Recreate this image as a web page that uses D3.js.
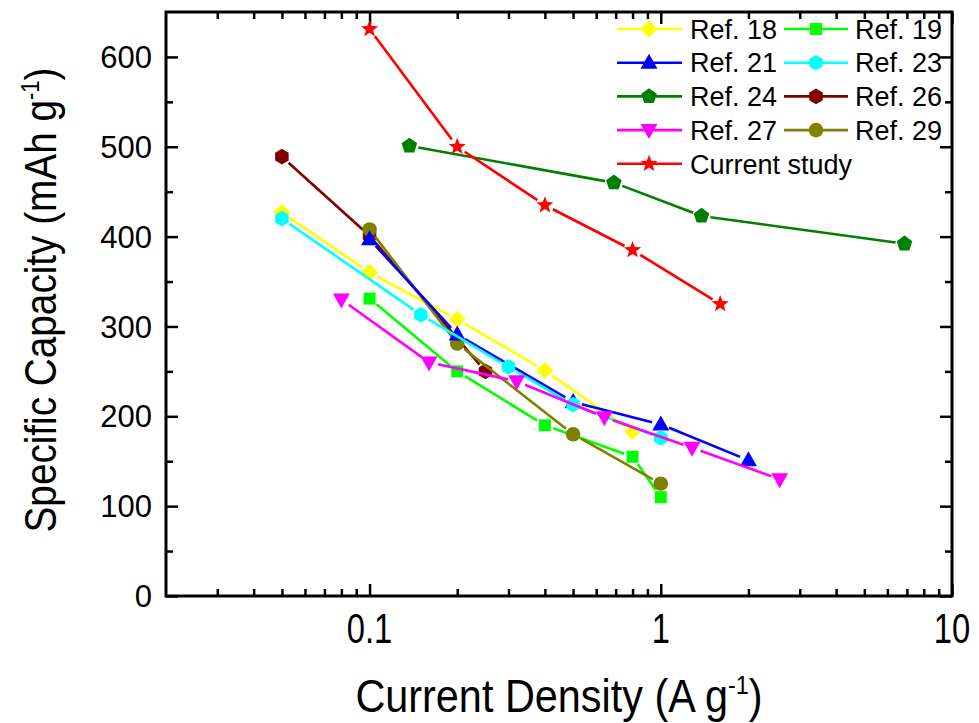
<!DOCTYPE html>
<html>
<head>
<meta charset="utf-8">
<script src="https://cdn.jsdelivr.net/npm/d3@7"></script>
<style>
  body { margin: 0; background: #fff; }
  svg { display: block; font-family: 'Liberation Sans', Arial, sans-serif; }
</style>
</head>
<body>
<div id="chart"></div>
<script>
// DATA (current density in A g-1, specific capacity in mAh g-1)
let seriesNames = ['Ref. 18', 'Ref. 19', 'Ref. 21', 'Ref. 23', 'Ref. 24', 'Ref. 26', 'Ref. 27', 'Ref. 29', 'Current study']

let ref18X = [0.05, 0.1, 0.2, 0.4, 0.8]
let ref18Y = [427, 360, 308, 251, 183]
let ref19X = [0.1, 0.2, 0.4, 0.8, 1.0]
let ref19Y = [331, 250, 190, 155, 110]
let ref21X = [0.1, 0.2, 0.5, 1.0, 2.0]
let ref21Y = [397, 291, 216, 191, 151]
let ref23X = [0.05, 0.15, 0.3, 0.5, 1.0]
let ref23Y = [420, 313, 255, 213, 176]
let ref24X = [0.137, 0.69, 1.38, 6.87]
let ref24Y = [501, 460, 423, 392]
let ref26X = [0.05, 0.1, 0.25]
let ref26Y = [489, 401, 250]
let ref27X = [0.08, 0.16, 0.32, 0.64, 1.28, 2.56]
let ref27Y = [330, 260, 239, 199, 165, 130]
let ref29X = [0.1, 0.2, 0.5, 1.0]
let ref29Y = [408, 281, 180, 125]
let currentX = [0.1, 0.2, 0.4, 0.8, 1.6]
let currentY = [631, 500, 435, 385, 325]

let xTicks = [0.1, 1, 10]
let yTicks = [0, 100, 200, 300, 400, 500, 600]

let width = 979
let height = 723
let plot = { left: 166, right: 952, top: 12, bottom: 596 }
let gap = 9

// custom marker shapes, size = half width in px
function polygon(n, r, rot) {
  return {
    draw(context) {
      for (let k = 0; k < n; k++) {
        let a = rot + k * 2 * Math.PI / n
        let px = r * Math.cos(a), py = r * Math.sin(a)
        if (k === 0) context.moveTo(px, py)
        else context.lineTo(px, py)
      }
      context.closePath()
    }
  }
}

let shapes = {
  diamond: polygon(4, 8.5, -Math.PI / 2),
  square: polygon(4, 8.5, -Math.PI / 4),
  triUp: {
    draw(c) { c.moveTo(0, -9); c.lineTo(8.5, 6); c.lineTo(-8.5, 6); c.closePath() }
  },
  triDown: {
    draw(c) { c.moveTo(0, 9); c.lineTo(8.5, -6); c.lineTo(-8.5, -6); c.closePath() }
  },
  hexagon: polygon(6, 7.8, -Math.PI / 2),
  pentagon: polygon(5, 8.2, -Math.PI / 2),
  circle: {
    draw(c) { c.moveTo(7.3, 0); c.arc(0, 0, 7.3, 0, 2 * Math.PI) }
  },
  star: {
    draw(c) {
      for (let k = 0; k < 10; k++) {
        let r = k % 2 === 0 ? 9 : 3.8
        let a = -Math.PI / 2 + k * Math.PI / 5
        if (k === 0) c.moveTo(r * Math.cos(a), r * Math.sin(a))
        else c.lineTo(r * Math.cos(a), r * Math.sin(a))
      }
      c.closePath()
    }
  }
}

let series = [
  { name: seriesNames[0], xs: ref18X, ys: ref18Y, color: '#ffff00', shape: 'diamond' },
  { name: seriesNames[1], xs: ref19X, ys: ref19Y, color: '#00ff00', shape: 'square' },
  { name: seriesNames[2], xs: ref21X, ys: ref21Y, color: '#0000ff', shape: 'triUp' },
  { name: seriesNames[3], xs: ref23X, ys: ref23Y, color: '#00ffff', shape: 'hexagon' },
  { name: seriesNames[4], xs: ref24X, ys: ref24Y, color: '#008000', shape: 'pentagon' },
  { name: seriesNames[5], xs: ref26X, ys: ref26Y, color: '#800000', shape: 'hexagon' },
  { name: seriesNames[6], xs: ref27X, ys: ref27Y, color: '#ff00ff', shape: 'triDown' },
  { name: seriesNames[7], xs: ref29X, ys: ref29Y, color: '#808000', shape: 'circle' },
  { name: seriesNames[8], xs: currentX, ys: currentY, color: '#ff0000', shape: 'star' }
]
// order the marks are stacked on the plot
let drawOrder = [0, 1, 5, 7, 2, 3, 4, 6, 8]

let x = d3.scaleLog().domain([0.02, 10]).range([plot.left, plot.right])
let y = d3.scaleLinear().domain([0, 650]).range([plot.bottom, plot.top])

let svg = d3.select('#chart').append('svg')
  .attr('width', width)
  .attr('height', height)

// AXES (ticks pointing inward on all four sides)
let xMinor = []
;[0.01, 0.1, 1].forEach(d => { for (let m = 2; m <= 9; m++) if (d * m > 0.02 && d * m < 10) xMinor.push(d * m) })
let yMinor = d3.range(50, 650, 100)

svg.append('g')
  .attr('transform', 'translate(0,' + plot.bottom + ')')
  .call(d3.axisBottom(x).tickValues(xTicks).tickSize(-12).tickFormat(''))
  .call(g => g.select('.domain').remove())
svg.append('g')
  .attr('transform', 'translate(0,' + plot.bottom + ')')
  .call(d3.axisBottom(x).tickValues(xMinor).tickSize(-7).tickFormat(''))
  .call(g => g.select('.domain').remove())
svg.append('g')
  .attr('transform', 'translate(0,' + plot.top + ')')
  .call(d3.axisTop(x).tickValues(xTicks).tickSize(-12).tickFormat(''))
  .call(g => g.select('.domain').remove())
svg.append('g')
  .attr('transform', 'translate(0,' + plot.top + ')')
  .call(d3.axisTop(x).tickValues(xMinor).tickSize(-7).tickFormat(''))
  .call(g => g.select('.domain').remove())
svg.append('g')
  .attr('transform', 'translate(' + plot.left + ',0)')
  .call(d3.axisLeft(y).tickValues(yTicks).tickSize(-12).tickFormat(''))
  .call(g => g.select('.domain').remove())
svg.append('g')
  .attr('transform', 'translate(' + plot.left + ',0)')
  .call(d3.axisLeft(y).tickValues(yMinor).tickSize(-7).tickFormat(''))
  .call(g => g.select('.domain').remove())
svg.append('g')
  .attr('transform', 'translate(' + plot.right + ',0)')
  .call(d3.axisRight(y).tickValues(yTicks).tickSize(-12).tickFormat(''))
  .call(g => g.select('.domain').remove())
svg.append('g')
  .attr('transform', 'translate(' + plot.right + ',0)')
  .call(d3.axisRight(y).tickValues(yMinor).tickSize(-7).tickFormat(''))
  .call(g => g.select('.domain').remove())
svg.selectAll('.tick line').attr('stroke', '#000').attr('stroke-width', 2.5)

svg.append('rect')
  .attr('x', plot.left)
  .attr('y', plot.top)
  .attr('width', plot.right - plot.left)
  .attr('height', plot.bottom - plot.top)
  .attr('fill', 'none')
  .attr('stroke', '#000')
  .attr('stroke-width', 3)

// tick labels
svg.append('g').selectAll('text')
  .data(yTicks)
  .enter().append('text')
  .attr('x', 152)
  .attr('y', d => y(d))
  .attr('dy', '0.36em')
  .attr('text-anchor', 'end')
  .style('font-size', '31px')
  .text(d => d)

svg.append('g').selectAll('text')
  .data(xTicks)
  .enter().append('text')
  .attr('transform', d => 'translate(' + x(d) + ',643) scale(0.78,1)')
  .attr('text-anchor', 'middle')
  .style('font-size', '42px')
  .text(d => d)

// axis titles
let xTitle = svg.append('text')
  .attr('transform', 'translate(559,712) scale(0.9,1)')
  .attr('text-anchor', 'middle')
  .style('font-size', '46px')
xTitle.append('tspan').text('Current Density (A g')
xTitle.append('tspan').attr('dy', -18).style('font-size', '26px').text('-1')
xTitle.append('tspan').attr('dy', 18).text(')')

let yTitle = svg.append('text')
  .attr('transform', 'translate(56,300) rotate(-90) scale(0.88,1)')
  .attr('text-anchor', 'middle')
  .style('font-size', '44px')
yTitle.append('tspan').text('Specific Capacity (mAh g')
yTitle.append('tspan').attr('dy', -17).style('font-size', '25px').text('-1')
yTitle.append('tspan').attr('dy', 17).text(')')

// SERIES
function segments(s) {
  let pts = s.xs.map((d, i) => [x(d), y(s.ys[i])])
  let segs = []
  for (let i = 0; i < pts.length - 1; i++) {
    let [x1, y1] = pts[i], [x2, y2] = pts[i + 1]
    let len = Math.hypot(x2 - x1, y2 - y1)
    if (len <= 2 * gap) continue
    let ux = (x2 - x1) / len, uy = (y2 - y1) / len
    segs.push([[x1 + ux * gap, y1 + uy * gap], [x2 - ux * gap, y2 - uy * gap]])
  }
  return segs
}

let plotG = svg.append('g')
drawOrder.forEach(idx => {
  let s = series[idx]
  let g = plotG.append('g').attr('class', 'series')
  g.selectAll('line')
    .data(segments(s))
    .enter().append('line')
    .attr('x1', d => d[0][0])
    .attr('y1', d => d[0][1])
    .attr('x2', d => d[1][0])
    .attr('y2', d => d[1][1])
    .attr('stroke', s.color)
    .attr('stroke-width', 2.6)
  g.selectAll('path')
    .data(s.xs.map((d, i) => [d, s.ys[i]]))
    .enter().append('path')
    .attr('transform', d => 'translate(' + x(d[0]) + ',' + y(d[1]) + ')')
    .attr('d', d3.symbol().type(shapes[s.shape]))
    .attr('fill', s.color)
})

// LEGEND
let legendCols = [{ x1: 617, x2: 682, mx: 649, tx: 690 }, { x1: 784, x2: 848, mx: 816, tx: 855 }]
let legend = svg.append('g').attr('class', 'legend')
series.forEach((s, i) => {
  let col = legendCols[i % 2]
  let ry = 29 + Math.floor(i / 2) * 33.7
  let item = legend.append('g')
  item.append('line')
    .attr('x1', col.x1).attr('x2', col.x2)
    .attr('y1', ry).attr('y2', ry)
    .attr('stroke', s.color)
    .attr('stroke-width', 2.6)
  item.append('path')
    .attr('transform', 'translate(' + col.mx + ',' + ry + ')')
    .attr('d', d3.symbol().type(shapes[s.shape]))
    .attr('fill', s.color)
  item.append('text')
    .attr('x', col.tx)
    .attr('y', ry)
    .attr('dy', '0.36em')
    .style('font-size', '27px')
    .text(s.name)
})
</script>
</body>
</html>
